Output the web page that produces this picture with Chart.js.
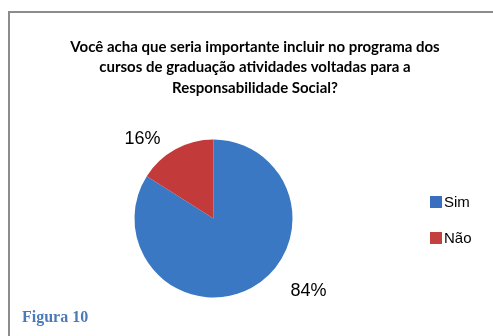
<!DOCTYPE html>
<html>
<head>
<meta charset="utf-8">
<script src="https://cdn.jsdelivr.net/npm/chart.js@4.4.1/dist/chart.umd.min.js"></script>
<style>
  html, body { margin: 0; padding: 0; background: #ffffff; }
  #wrap { width: 493px; height: 336px; position: relative; }
</style>
</head>
<body>
<div id="wrap"><canvas id="c" width="493" height="336"></canvas></div>
<script>
// Survey answers and their shares (percent)
const categories = ['Sim', 'Não'];
const values = [84, 16];
const sliceColors = ['#3b78c3', '#c23b3a'];
const legendColors = ['#3a6fc0', '#c2403e'];

const titleLines = [
  'Você acha que seria importante incluir no programa dos',
  'cursos de graduação atividades voltadas para a',
  'Responsabilidade Social?'
];
const captionText = 'Figura 10';

// Frame, title, caption, legend and percentage labels
const decorations = {
  id: 'decorations',
  beforeDraw(chart) {
    const ctx = chart.ctx;
    ctx.save();
    ctx.fillStyle = '#ffffff';
    ctx.fillRect(0, 0, chart.width, chart.height);
    ctx.strokeStyle = '#8c8c8c';
    ctx.lineWidth = 2;
    ctx.strokeRect(9, 12, 520, 360);
    ctx.restore();
  },
  afterDraw(chart) {
    const ctx = chart.ctx;
    ctx.save();
    // title
    ctx.fillStyle = '#000000';
    ctx.font = 'bold 15px Lato, "Liberation Sans", sans-serif';
    ctx.textAlign = 'center';
    ctx.textBaseline = 'middle';
    titleLines.forEach((t, i) => ctx.fillText(t, 255, 47 + i * 20.5));

    // caption
    ctx.fillStyle = '#4b7abb';
    ctx.font = 'bold 16px "Liberation Serif", serif';
    ctx.textAlign = 'left';
    ctx.fillText(captionText, 22, 318);

    // legend
    ctx.font = '15px "Liberation Sans", sans-serif';
    categories.forEach((name, i) => {
      const y = 202 + i * 36;
      ctx.fillStyle = legendColors[i];
      ctx.fillRect(430, y - 6, 12, 12);
      ctx.fillStyle = '#000000';
      ctx.fillText(name, 444, y + 1);
    });

    // percentage labels placed beside each slice
    const meta = chart.getDatasetMeta(0);
    const shift = [[57, 3], [-33, -10]];
    ctx.font = '18px "Liberation Sans", sans-serif';
    ctx.fillStyle = '#000000';
    ctx.textAlign = 'center';
    meta.data.forEach((arc, i) => {
      const mid = (arc.startAngle + arc.endAngle) / 2;
      const x = arc.x + Math.cos(mid) * arc.outerRadius + shift[i][0];
      const y = arc.y + Math.sin(mid) * arc.outerRadius + shift[i][1];
      ctx.fillText(values[i] + '%', x, y);
    });
    ctx.restore();
  }
};

new Chart(document.getElementById('c'), {
  type: 'pie',
  data: {
    labels: categories,
    datasets: [{
      data: values,
      backgroundColor: sliceColors,
      borderWidth: 0
    }]
  },
  options: {
    responsive: false,
    animation: false,
    layout: { padding: { left: 134.5, right: 200.5, top: 139.5, bottom: 38.5 } },
    plugins: {
      legend: { display: false },
      title: { display: false },
      tooltip: { enabled: false }
    }
  },
  plugins: [decorations]
});
</script>
</body>
</html>
